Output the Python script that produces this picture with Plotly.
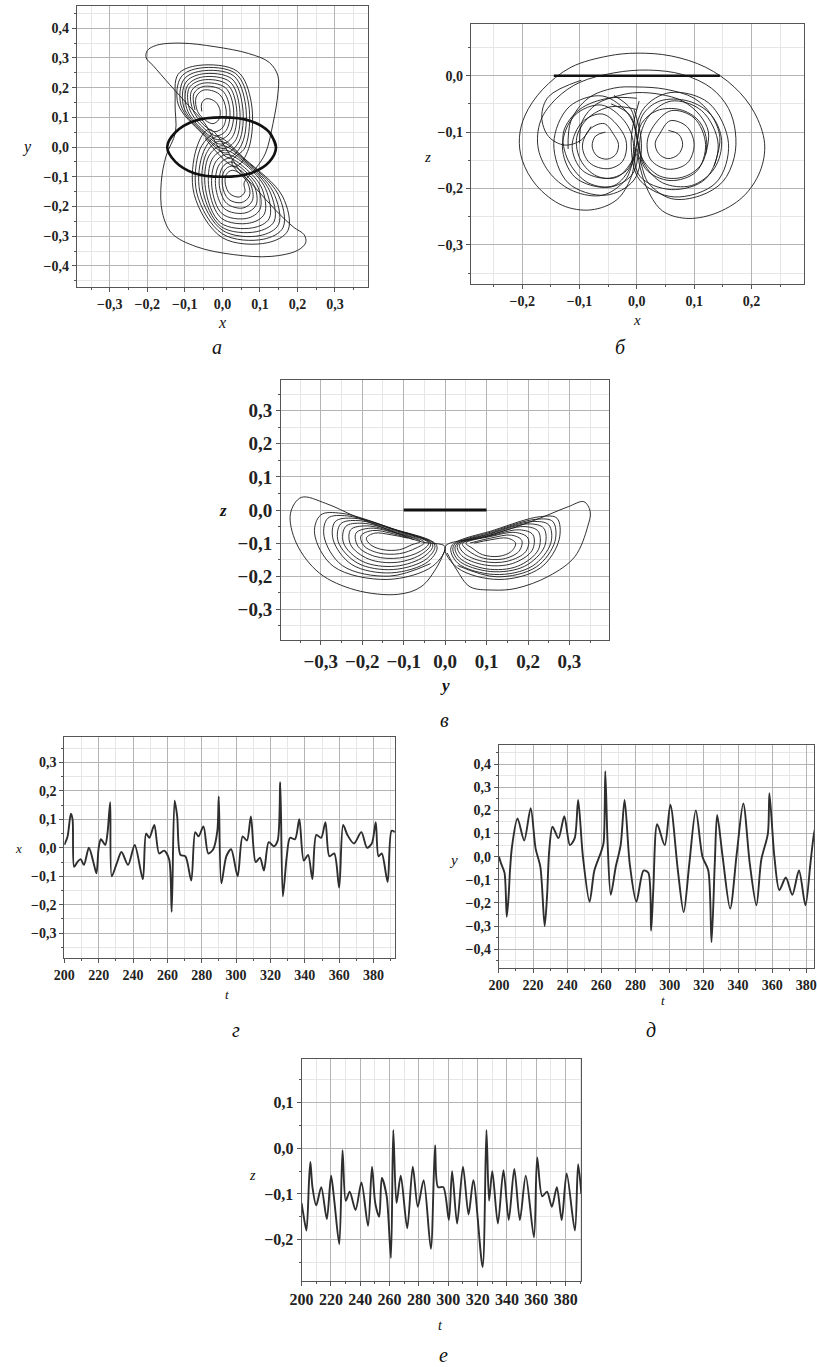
import plotly.graph_objects as go

W, H = 817, 1367

# ---------------- panel а : y(x) ----------------
a_x = [
    -0.055, -0.055, -0.042, -0.018, -0.006, -0.010, -0.025, -0.045,
    -0.066, -0.070, -0.050, -0.008, 0.010, 0.002, -0.020, -0.050,
    -0.080, -0.082, -0.052, 0.008, 0.030, 0.018, -0.012, -0.056,
    -0.095, -0.093, -0.053, 0.020, 0.046, 0.036, 0.002, -0.055,
    -0.110, -0.103, -0.057, 0.030, 0.062, 0.052, 0.015,
    -0.050, -0.090, -0.140, -0.185, -0.203, -0.200, -0.175, -0.110, -0.020, 0.070, 0.125, 0.148, 0.148, 0.135, 0.115, 0.090,
    0.058, 0.060, 0.045, 0.020, 0.008, 0.010, 0.026, 0.048,
    0.075, 0.080, 0.055, 0.012, -0.008, 0.000, 0.022, 0.055,
    0.095, 0.100, 0.065, 0.000, -0.028, -0.018, 0.012, 0.062,
    0.115, 0.125, 0.080, -0.005, -0.045, -0.036, 0.000, 0.063,
    0.135, 0.150, 0.100, 0.000, -0.060, -0.050, -0.015, 0.060,
    0.160, 0.175, 0.120, 0.000, -0.075, -0.068, -0.035,
    0.050, 0.090, 0.140, 0.190, 0.218, 0.222, 0.200, 0.130, 0.030, -0.070, -0.135, -0.160, -0.163, -0.150, -0.125,
    -0.126, -0.118, -0.063, 0.040, 0.077, 0.070, 0.035, -0.046,
]
a_y = [
    0.120, 0.148, 0.163, 0.152, 0.122, 0.092, 0.079, 0.090,
    0.120, 0.168, 0.192, 0.178, 0.125, 0.068, 0.052, 0.075,
    0.130, 0.190, 0.215, 0.200, 0.125, 0.045, 0.025, 0.062,
    0.130, 0.207, 0.236, 0.220, 0.130, 0.025, -0.005, 0.050,
    0.140, 0.227, 0.256, 0.240, 0.140, 0.010, -0.035,
    0.085, 0.140, 0.210, 0.275, 0.300, 0.325, 0.343, 0.350, 0.338, 0.315, 0.285, 0.240, 0.180, 0.080, -0.020, -0.070,
    -0.120, -0.150, -0.168, -0.157, -0.125, -0.093, -0.078, -0.090,
    -0.125, -0.180, -0.205, -0.190, -0.130, -0.068, -0.050, -0.075,
    -0.135, -0.210, -0.240, -0.225, -0.135, -0.050, -0.025, -0.060,
    -0.140, -0.240, -0.272, -0.255, -0.140, -0.030, 0.005, -0.050,
    -0.150, -0.260, -0.298, -0.280, -0.150, -0.015, 0.035, -0.040,
    -0.165, -0.280, -0.322, -0.305, -0.160, 0.000, 0.060,
    -0.085, -0.140, -0.210, -0.270, -0.295, -0.322, -0.348, -0.368, -0.362, -0.335, -0.290, -0.220, -0.120, -0.030, 0.050,
    0.150, 0.245, 0.275, 0.255, 0.150, -0.005, -0.065, 0.030,
]
a2_x = [
    -0.073, -0.076, -0.051, 0.000, 0.020, 0.010, -0.016, -0.053,
    -0.088, -0.088, -0.052, 0.014, 0.038, 0.027, -0.005, -0.055,
    -0.103, -0.098, -0.055, 0.025, 0.054, 0.044, 0.008, -0.053,
    -0.118, -0.110, -0.060, 0.035, 0.070, 0.061, 0.025,
    0.068, 0.072, 0.050, 0.016, 0.000, 0.005, 0.024, 0.052,
    0.085, 0.090, 0.060, 0.006, -0.018, -0.009, 0.017, 0.058,
    0.105, 0.112, 0.072, -0.002, -0.036, -0.027, 0.006, 0.063,
    0.125, 0.138, 0.090, -0.003, -0.052, -0.043, -0.008, 0.062,
    0.148, 0.162, 0.110, 0.000, -0.068, -0.060, -0.025,
]
a2_y = [
    0.125, 0.180, 0.204, 0.190, 0.125, 0.056, 0.038, 0.068,
    0.130, 0.200, 0.226, 0.210, 0.128, 0.035, 0.010, 0.056,
    0.135, 0.217, 0.246, 0.230, 0.135, 0.018, -0.020, 0.045,
    0.145, 0.236, 0.266, 0.248, 0.145, 0.000, -0.050,
    -0.122, -0.165, -0.187, -0.175, -0.128, -0.080, -0.064, -0.082,
    -0.130, -0.195, -0.222, -0.208, -0.132, -0.060, -0.038, -0.068,
    -0.138, -0.225, -0.256, -0.240, -0.138, -0.040, -0.010, -0.055,
    -0.145, -0.250, -0.285, -0.268, -0.145, -0.022, 0.020, -0.045,
    -0.158, -0.270, -0.310, -0.292, -0.155, -0.008, 0.048,
]
a_ring_x = [0.143, 0.125, 0.075, 0.000, -0.075, -0.125, -0.147, -0.125, -0.075, 0.000, 0.075, 0.125, 0.143, 0.125]
a_ring_y = [0.000, 0.050, 0.088, 0.100, 0.088, 0.050, 0.000, -0.050, -0.088, -0.100, -0.088, -0.050, 0.000, 0.050]

# ---------------- panel б : z(x) ----------------
b_left_x = [
    -0.055, -0.072, -0.078, -0.070, -0.052, -0.037, -0.032, -0.040,
    -0.057, -0.082, -0.095, -0.082, -0.050, -0.025, -0.018, -0.030,
    -0.060, -0.095, -0.113, -0.095, -0.050, -0.015, -0.006, -0.022,
    -0.062, -0.108, -0.130, -0.108, -0.050, -0.008, 0.002, -0.015,
    -0.060, -0.118, -0.145, -0.120, -0.055, -0.005, 0.008, -0.005,
]
b_left_z = [
    -0.100, -0.107, -0.125, -0.142, -0.148, -0.140, -0.122, -0.105,
    -0.085, -0.095, -0.125, -0.155, -0.165, -0.152, -0.120, -0.093,
    -0.068, -0.082, -0.125, -0.168, -0.182, -0.165, -0.120, -0.080,
    -0.052, -0.070, -0.125, -0.180, -0.198, -0.175, -0.120, -0.068,
    -0.036, -0.055, -0.120, -0.190, -0.212, -0.185, -0.120, -0.060,
]
b_right_x = [
    0.055, 0.073, 0.080, 0.072, 0.054, 0.038, 0.032, 0.040,
    0.058, 0.087, 0.100, 0.088, 0.055, 0.025, 0.018, 0.030,
    0.060, 0.100, 0.120, 0.104, 0.058, 0.015, 0.005, 0.020,
    0.060, 0.113, 0.142, 0.120, 0.060, 0.005, -0.004, 0.012,
    0.058, 0.125, 0.160, 0.138, 0.065, 0.005, -0.010, 0.004,
]
b_right_z = [
    -0.097, -0.104, -0.122, -0.140, -0.147, -0.138, -0.120, -0.103,
    -0.080, -0.090, -0.122, -0.155, -0.166, -0.150, -0.118, -0.088,
    -0.062, -0.075, -0.122, -0.170, -0.186, -0.165, -0.118, -0.073,
    -0.045, -0.062, -0.122, -0.183, -0.202, -0.178, -0.118, -0.058,
    -0.030, -0.048, -0.120, -0.190, -0.215, -0.185, -0.118, -0.045,
]
b_fig8_x = [0.000, -0.050, -0.100, -0.128, -0.120, -0.085, -0.040, -0.010, 0.000, 0.010,
            0.040, 0.090, 0.130, 0.148, 0.135, 0.095, 0.045, 0.012, 0.000, -0.010, -0.040, None,
            0.000, -0.045, -0.085, -0.105, -0.098, -0.070, -0.035, -0.008, 0.000, 0.008,
            0.035, 0.075, 0.108, 0.122, 0.112, 0.080, 0.040, 0.010, 0.000, -0.012, -0.045]
b_fig8_z = [-0.040, -0.040, -0.060, -0.100, -0.150, -0.190, -0.195, -0.160, -0.120, -0.070,
            -0.045, -0.045, -0.070, -0.115, -0.165, -0.195, -0.190, -0.155, -0.110, -0.060, -0.035, None,
            -0.060, -0.055, -0.075, -0.110, -0.150, -0.178, -0.180, -0.150, -0.120, -0.085,
            -0.062, -0.060, -0.080, -0.118, -0.158, -0.180, -0.178, -0.148, -0.110, -0.070, -0.050]
b_outer_x = [0.000, -0.010, -0.035, -0.080, -0.130, -0.175, -0.200, -0.205, -0.195, -0.165,
             -0.115, -0.050, 0.000, 0.060, 0.120, 0.170, 0.205, 0.223, 0.215, 0.185,
             0.135, 0.085, 0.045, 0.020, 0.005, 0.000]
b_outer_z = [-0.130, -0.180, -0.220, -0.238, -0.230, -0.195, -0.150, -0.110, -0.070, -0.025,
             0.015, 0.035, 0.040, 0.035, 0.015, -0.020, -0.065, -0.120, -0.170, -0.215,
             -0.245, -0.253, -0.240, -0.205, -0.160, -0.130]
b_outer2_x = [0.000, -0.020, -0.060, -0.110, -0.150, -0.172, -0.168, -0.140, -0.100, -0.040, 0.020,
              0.080, 0.130, 0.160, 0.172, 0.170, 0.150, 0.110, 0.060, 0.020, 0.000]
b_outer2_z = [-0.140, -0.185, -0.212, -0.205, -0.175, -0.130, -0.080, -0.040, -0.012, 0.005, 0.010,
              0.002, -0.022, -0.058, -0.100, -0.145, -0.188, -0.213, -0.218, -0.190, -0.140]
b_caps_x = [-0.100, -0.095, -0.070, -0.030, 0.000, 0.040, 0.080, 0.110, 0.125, 0.120, None,
            0.135, 0.145, 0.130, 0.100, 0.050, 0.000, -0.040, -0.085, -0.115, -0.120, None,
            -0.097, -0.154, -0.166, -0.154, -0.126, -0.097, -0.080]
b_caps_z = [-0.120, -0.080, -0.050, -0.035, -0.030, -0.033, -0.045, -0.070, -0.100, -0.140, None,
            -0.160, -0.110, -0.070, -0.040, -0.024, -0.020, -0.022, -0.040, -0.080, -0.130, None,
            -0.008, -0.037, -0.073, -0.108, -0.123, -0.114, -0.090]
b_bar_x = [-0.145, 0.145]
b_bar_z = [0.0, 0.0]

# ---------------- panel в : z(y) ----------------
c_left_y = [
    -0.090, -0.130, -0.170, -0.190, -0.180, -0.150, -0.110, -0.080,
    -0.060, -0.120, -0.180, -0.215, -0.210, -0.170, -0.110, -0.060,
    -0.040, -0.120, -0.200, -0.240, -0.245, -0.200, -0.120, -0.050,
    -0.030, -0.120, -0.220, -0.265, -0.270, -0.225, -0.130, -0.040,
    -0.020, -0.130, -0.250, -0.300, -0.315, -0.270, -0.140, -0.030,
    0.000, -0.058, -0.137, -0.216, -0.288, -0.347, -0.373, -0.359, -0.303, -0.216, -0.114, -0.058, -0.019, 0.000,
]
c_left_z = [
    -0.085, -0.075, -0.070, -0.085, -0.105, -0.120, -0.120, -0.105,
    -0.095, -0.070, -0.055, -0.070, -0.110, -0.140, -0.145, -0.125,
    -0.100, -0.065, -0.040, -0.050, -0.100, -0.155, -0.170, -0.140,
    -0.105, -0.060, -0.025, -0.035, -0.090, -0.165, -0.190, -0.155,
    -0.108, -0.055, -0.010, -0.015, -0.070, -0.170, -0.210, -0.170,
    -0.111, -0.096, -0.060, -0.020, 0.020, 0.038, -0.010, -0.100, -0.191, -0.242, -0.255, -0.232, -0.171, -0.120,
]
c_left2_y = [-0.075, -0.125, -0.175, -0.203, -0.196, -0.160, -0.110, -0.070,
             -0.050, -0.120, -0.190, -0.228, -0.228, -0.185, -0.115, -0.055,
             -0.035, -0.120, -0.210, -0.252, -0.258, -0.212, -0.125, -0.045,
             -0.025, -0.125, -0.235, -0.283, -0.292, -0.248, -0.135, -0.035]
c_left2_z = [-0.090, -0.072, -0.062, -0.078, -0.108, -0.130, -0.132, -0.115,
             -0.098, -0.068, -0.048, -0.060, -0.105, -0.148, -0.158, -0.132,
             -0.102, -0.062, -0.032, -0.042, -0.095, -0.160, -0.180, -0.148,
             -0.106, -0.058, -0.018, -0.025, -0.080, -0.168, -0.200, -0.162]
c_right_y = [
    0.070, 0.110, 0.150, 0.170, 0.160, 0.130, 0.090, 0.065,
    0.050, 0.110, 0.170, 0.200, 0.195, 0.150, 0.090, 0.045,
    0.035, 0.110, 0.190, 0.225, 0.225, 0.175, 0.100, 0.035,
    0.025, 0.110, 0.210, 0.250, 0.255, 0.210, 0.120, 0.030,
    0.015, 0.120, 0.230, 0.270, 0.275, 0.230, 0.130, 0.030,
    0.000, 0.100, 0.218, 0.297, 0.335, 0.350, 0.344, 0.313, 0.250, 0.171, 0.115, 0.060, 0.028, 0.005,
]
c_right_z = [
    -0.100, -0.090, -0.085, -0.100, -0.125, -0.140, -0.135, -0.115,
    -0.100, -0.080, -0.068, -0.085, -0.125, -0.155, -0.155, -0.130,
    -0.105, -0.075, -0.050, -0.065, -0.120, -0.170, -0.178, -0.145,
    -0.108, -0.070, -0.035, -0.045, -0.100, -0.170, -0.195, -0.160,
    -0.110, -0.060, -0.020, -0.025, -0.090, -0.175, -0.210, -0.175,
    -0.111, -0.080, -0.030, 0.010, 0.025, -0.005, -0.050, -0.141, -0.200, -0.237, -0.242, -0.232, -0.181, -0.130,
]
c_right2_y = [0.060, 0.110, 0.160, 0.185, 0.178, 0.140, 0.090, 0.055,
              0.042, 0.110, 0.180, 0.212, 0.210, 0.162, 0.095, 0.040,
              0.030, 0.110, 0.200, 0.238, 0.240, 0.192, 0.110, 0.032,
              0.020, 0.115, 0.220, 0.260, 0.265, 0.220, 0.125, 0.030]
c_right2_z = [-0.100, -0.085, -0.076, -0.092, -0.125, -0.148, -0.145, -0.122,
              -0.102, -0.078, -0.060, -0.075, -0.122, -0.162, -0.166, -0.138,
              -0.106, -0.072, -0.042, -0.055, -0.110, -0.170, -0.186, -0.152,
              -0.109, -0.065, -0.028, -0.035, -0.095, -0.172, -0.202, -0.168]
c_bar_y = [-0.1, 0.1]
c_bar_z = [0.0, 0.0]

# ---------------- panel г : x(t) ----------------
g_t = [200, 201.9, 203.8, 204.8, 205.7, 207.6, 209.5, 211.4, 214.3, 217.1,
       218.7, 220, 221.3, 223.8, 225.1, 226.7, 227.6, 230.5, 233.3, 237.1,
       241, 245.7, 247.6, 249.5, 252.4, 255.2, 258.1, 261, 262.5, 264.2,
       265.7, 267.6, 270.5, 273.9, 276.2, 278.1, 281, 283.8, 286.7, 289.1,
       289.9, 291.4, 294.3, 297.1, 300.9, 303.8, 306.3, 308.6, 311.4, 313.9,
       316.2, 319, 321.9, 324.2, 325.7, 327.2, 329.5, 331.4, 334.3, 336.8,
       339.4, 341.9, 344.4, 346.7, 349.5, 352, 354.3, 357.1, 360, 362.3,
       364.8, 368.6, 372.9, 376.2, 379, 381.3, 382.9, 384.8, 388.2, 390.5, 392.4]
g_x = [0.01, 0.04, 0.12, 0.1, -0.067, -0.05, -0.04, -0.06, 0.0, -0.055,
       -0.09, 0.0, 0.03, 0.01, 0.05, 0.16, -0.1, -0.055, -0.015, -0.06,
       0.01, -0.11, 0.05, 0.035, 0.08, -0.02, -0.01, -0.04, -0.225, 0.165,
       0.11, -0.025, -0.03, -0.115, 0.055, 0.04, 0.075, -0.02, -0.005, 0.06,
       0.18, -0.125, -0.03, -0.005, -0.1, 0.04, 0.025, 0.11, -0.05, -0.035,
       -0.08, 0.02, 0.005, 0.025, 0.23, -0.17, -0.03, 0.035, 0.03, 0.1,
       -0.045, -0.025, -0.11, 0.045, 0.035, 0.09, -0.03, -0.02, -0.14, 0.08,
       0.045, 0.015, 0.055, 0.0, 0.015, 0.09, -0.03, -0.02, -0.12, 0.06, 0.055]

# ---------------- panel д : y(t) ----------------
d_t = [200, 201.3, 203.3, 204.6, 205.7, 206.5, 207.7, 210.9, 214.8, 218.6,
       221.5, 224.3, 226.8, 228.2, 229.5, 231.4, 234.9, 238.3, 241.6, 244.4,
       246.4, 249.2, 253.1, 255.9, 259.8, 261.3, 262.3, 263.6, 265.5, 268.4,
       271.3, 273.6, 276.6, 280.5, 284.7, 287.5, 289.1, 290.4, 292.7, 297.1,
       300.4, 304.8, 308.2, 311.5, 315.3, 319.2, 322.6, 324.5, 326.4, 327.8,
       331, 335.4, 339.3, 343.1, 346.9, 350.8, 353.6, 357.5, 358.4, 361.3,
       364.2, 368, 371.8, 375.7, 379.5, 382.4, 384.3, 386]
d_y = [0.0, -0.03, -0.07, -0.26, -0.17, -0.06, 0.045, 0.165, 0.07, 0.21,
       0.035, -0.045, -0.3, -0.17, 0.03, 0.13, 0.08, 0.175, 0.05, 0.08,
       0.245, 0.0, -0.195, -0.06, 0.02, 0.06, 0.37, 0.07, -0.165, -0.045,
       0.05, 0.245, -0.03, -0.195, -0.06, -0.07, -0.32, -0.145, 0.14, 0.05,
       0.225, -0.06, -0.24, -0.03, 0.2, 0.0, -0.06, -0.37, -0.03, 0.18,
       0.0, -0.225, 0.015, 0.23, -0.03, -0.21, -0.015, 0.1, 0.275, 0.0,
       -0.145, -0.09, -0.165, -0.06, -0.21, -0.03, 0.09, 0.15]

# ---------------- panel е : z(t) ----------------
e_t = [200, 201.1, 203.3, 205.1, 206, 207.4, 210, 213.4, 217.2, 220.1,
       222.3, 225.7, 227.9, 230.1, 232.8, 236.8, 240.8, 245.3, 248, 250.2,
       252.9, 254.7, 258, 260.9, 262.5, 264.7, 267.6, 272, 275.8, 279.2,
       283.2, 288.1, 291, 293, 296.6, 300.4, 302.6, 306, 310, 313.8,
       317.1, 323.4, 326, 327.8, 330, 333.8, 337.6, 341.2, 345, 348.8,
       352.8, 358.4, 360.6, 364, 367.3, 370.6, 374, 377.3, 380.7, 386.3,
       388.5, 390.7]
e_z = [-0.12, -0.142, -0.18, -0.07, -0.03, -0.085, -0.125, -0.085, -0.155, -0.06,
       -0.115, -0.21, -0.004, -0.115, -0.095, -0.135, -0.075, -0.17, -0.04, -0.12,
       -0.15, -0.065, -0.105, -0.24, 0.04, -0.12, -0.06, -0.175, -0.04, -0.128,
       -0.07, -0.22, 0.007, -0.085, -0.085, -0.157, -0.05, -0.165, -0.04, -0.145,
       -0.07, -0.26, 0.04, -0.115, -0.05, -0.165, -0.048, -0.157, -0.045, -0.157,
       -0.06, -0.195, -0.02, -0.105, -0.095, -0.128, -0.085, -0.157, -0.055, -0.18,
       -0.035, -0.1]

fig = go.Figure()

THIN = dict(color="#1a1a1a", width=0.9, shape="spline", smoothing=1.0)
TS = dict(color="#2e2e2e", width=1.9, shape="spline", smoothing=0.8)


def add(x, y, ax, line):
    fig.add_trace(go.Scatter(x=x, y=y, mode="lines", line=line, xaxis="x" + ax, yaxis="y" + ax,
                             showlegend=False, hoverinfo="skip", connectgaps=False))


add(a_x, a_y, "", THIN)
add(a2_x, a2_y, "", THIN)
add(a_ring_x, a_ring_y, "", dict(color="#111", width=2.6, shape="spline", smoothing=1.0))
add(b_left_x, b_left_z, "2", THIN)
add(b_right_x, b_right_z, "2", THIN)
add(b_fig8_x, b_fig8_z, "2", THIN)
add(b_outer_x, b_outer_z, "2", THIN)
add(b_outer2_x, b_outer2_z, "2", THIN)
add(b_caps_x, b_caps_z, "2", THIN)
add(b_bar_x, b_bar_z, "2", dict(color="#111", width=2.6))
add(c_left_y, c_left_z, "3", THIN)
add(c_left2_y, c_left2_z, "3", THIN)
add(c_right_y, c_right_z, "3", THIN)
add(c_right2_y, c_right2_z, "3", THIN)
add(c_bar_y, c_bar_z, "3", dict(color="#111", width=3))
add(g_t, g_x, "4", TS)
add(d_t, d_y, "5", TS)
add(e_t, e_z, "6", TS)


def axis(domain, rng, dtick, minor, fsize, anchor, fmt):
    return dict(
        domain=domain, range=rng, dtick=dtick, tick0=0, tickformat=fmt,
        showgrid=True, gridcolor="#b3b3b3", gridwidth=1,
        minor=dict(dtick=minor, tick0=0, showgrid=True, gridcolor="#e6e6e6", gridwidth=1,
                   ticks="outside", ticklen=2, tickcolor="#555"),
        ticks="outside", ticklen=4, tickcolor="#555", tickwidth=1,
        showline=True, mirror=True, linecolor="#555", linewidth=1, zeroline=False,
        tickfont=dict(family="Liberation Serif", size=fsize, color="#222", weight="bold"),
        anchor=anchor, fixedrange=True, ticklabeloverflow="allow",
    )


def dx(x0, x1):
    return [x0 / W, min(x1 / W, 1.0)]


def dy(y0, y1):
    return [1 - y1 / H, 1 - y0 / H]


layout = dict(
    width=W, height=H, margin=dict(l=0, r=0, t=0, b=0),
    paper_bgcolor="white", plot_bgcolor="white", separators=", ",
    showlegend=False,
    xaxis=axis(dx(66, 363), [-0.388, 0.389], 0.1, 0.05, 14, "y", ".1f"),
    yaxis=axis(dy(6, 287), [-0.471, 0.475], 0.1, 0.05, 14, "x", ".1f"),
    xaxis2=axis(dx(467.3, 806.7), [-0.29, 0.2916], 0.1, 0.05, 14, "y2", ".1f"),
    yaxis2=axis(dy(24, 284.3), [-0.37, 0.0917], 0.1, 0.05, 14, "x2", ".1f"),
    xaxis3=axis(dx(274, 608), [-0.396, 0.395], 0.1, 0.05, 19, "y3", ".1f"),
    yaxis3=axis(dy(380, 640), [-0.393, 0.393], 0.1, 0.05, 19, "x3", ".1f"),
    xaxis4=axis(dx(53.3, 390), [200, 392.4], 20, 10, 14, "y4", "d"),
    yaxis4=axis(dy(736.7, 958.3), [-0.388, 0.39], 0.1, 0.05, 14, "x4", ".1f"),
    xaxis5=axis(dx(496, 817), [200, 384.5], 20, 10, 14, "y5", "d"),
    yaxis5=axis(dy(745, 968.3), [-0.483, 0.483], 0.1, 0.05, 14, "x5", ".1f"),
    xaxis6=axis(dx(295, 580), [200, 390.7], 20, 10, 16, "y6", "d"),
    yaxis6=axis(dy(1059.3, 1280.7), [-0.29, 0.195], 0.1, 0.05, 16, "x6", ".1f"),
)
fig.update_layout(**layout)


def label(text, X, Y, size, bold=False):
    fig.add_annotation(text=text, x=X / W, y=1 - Y / H, xref="paper", yref="paper",
                       showarrow=False, xanchor="center", yanchor="middle",
                       font=dict(family="Liberation Serif", size=size, color="#111",
                                 style="italic", weight="bold" if bold else "normal"))


# axis titles
label("y", 15, 147, 16)
label("x", 214, 322, 16)
label("z", 423, 157, 15)
label("x", 637, 320, 15)
label("z", 215, 510, 17, True)
label("y", 441, 685, 17, True)
label("x", 7, 848, 13)
label("t", 219, 994, 13)
label("y", 450, 860, 15)
label("t", 663, 1000, 13)
label("z", 245, 1175, 14)
label("t", 437, 1325, 14)

# panel letters
label("а", 209, 347, 20)
label("б", 620, 347, 20)
label("в", 441, 720, 20)
label("г", 228, 1030, 20)
label("д", 651, 1030, 20)
label("е", 440, 1355, 20)

fig.write_html(
    "out.html",
    config={"displayModeBar": False, "staticPlot": True},
    post_script="document.body.style.margin='0px';document.body.style.overflow='hidden';",
)
